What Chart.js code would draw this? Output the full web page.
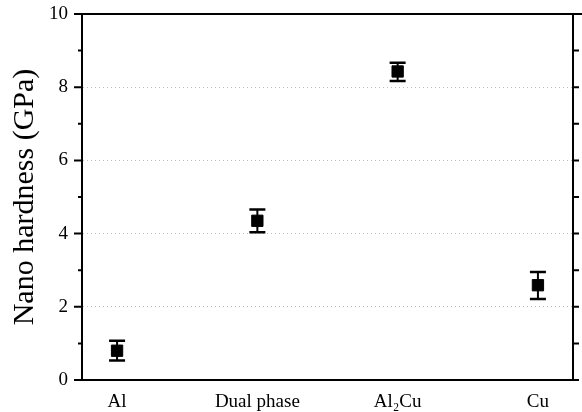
<!DOCTYPE html>
<html>
  <head>
    <title>Nano hardness</title>
    <script src="https://cdn.jsdelivr.net/npm/chart.js"></script>
    <style>
      html, body { margin: 0; padding: 0; background: #fff; overflow: hidden; }
    </style>
  </head>
  <body>
    <canvas id="myChart" width="582" height="412"></canvas>
    <script>
      var categories = ["Al", "Dual phase", "Al\u2082Cu", "Cu"];
      var hardness = [0.80, 4.35, 8.43, 2.59];
      var errLow = [0.53, 4.04, 8.17, 2.21];
      var errHigh = [1.07, 4.66, 8.67, 2.95];
      var yTicks = [0, 2, 4, 6, 8, 10];

      var serif = "'Liberation Serif', 'Times New Roman', serif";

      // error bars + tick marks + frame, all placed through the chart scales
      var extras = {
        id: "extras",
        afterDatasetsDraw: function (chart) {
          var c = chart.ctx;
          var xs = chart.scales.x, ys = chart.scales.y;
          var area = chart.chartArea;
          c.save();
          c.strokeStyle = "#000";
          for (var i = 0; i < hardness.length; i++) {
            var px = xs.getPixelForValue(i);
            var top = ys.getPixelForValue(errHigh[i]);
            var bot = ys.getPixelForValue(errLow[i]);
            c.lineWidth = 2;
            c.beginPath();
            c.moveTo(px, top); c.lineTo(px, bot);
            c.stroke();
            c.lineWidth = 2.5;
            c.beginPath();
            c.moveTo(px - 8, top); c.lineTo(px + 8, top);
            c.moveTo(px - 8, bot); c.lineTo(px + 8, bot);
            c.stroke();
          }
          // frame: top and right
          c.lineWidth = 2;
          c.beginPath();
          c.moveTo(area.left, area.top); c.lineTo(chart.width, area.top);
          c.moveTo(area.right, area.top); c.lineTo(area.right, area.bottom + 1);
          c.stroke();
          // ticks on left (outward) and right (outward)
          for (var v = 0; v <= 10; v++) {
            var py = ys.getPixelForValue(v);
            var major = v % 2 === 0;
            c.lineWidth = 2;
            c.beginPath();
            c.moveTo(area.left, py); c.lineTo(area.left - (major ? 8 : 4), py);
            c.moveTo(area.right, py); c.lineTo(area.right + 6, py);
            c.stroke();
          }
          c.restore();
        }
      };

      var ctx = document.getElementById("myChart").getContext("2d");
      var myChart = new Chart(ctx, {
        type: "scatter",
        data: {
          datasets: [{
            label: "Nano hardness",
            data: hardness.map(function (h, i) { return { x: i, y: h }; }),
            pointStyle: "rect",
            pointRadius: 8,
            pointBorderWidth: 1,
            backgroundColor: "#000",
            borderColor: "#000"
          }]
        },
        options: {
          responsive: false,
          animation: false,
          layout: { padding: { top: 14, right: 5, left: 0, bottom: 0 } },
          plugins: { legend: { display: false }, tooltip: { enabled: false } },
          scales: {
            x: {
              type: "linear",
              min: -0.25,
              max: 3.25,
              afterBuildTicks: function (scale) {
                scale.ticks = categories.map(function (c, i) { return { value: i }; });
              },
              afterFit: function (scale) {
                scale.height = 32;
                scale.paddingLeft = 0;
                scale.paddingRight = 0;
              },
              grid: { display: false },
              border: { display: true, color: "#000", width: 2 },
              ticks: {
                color: "#000",
                padding: 3,
                maxRotation: 0,
                autoSkip: false,
                font: { family: serif, size: 19 },
                callback: function (v) { return categories[v]; }
              }
            },
            y: {
              min: 0,
              max: 10,
              afterBuildTicks: function (scale) {
                scale.ticks = yTicks.map(function (t) { return { value: t }; });
              },
              afterFit: function (scale) {
                scale.width = 82;
                scale.paddingTop = 0;
                scale.paddingBottom = 0;
              },
              grid: {
                drawTicks: false,
                color: function (c) {
                  var v = c.tick && c.tick.value;
                  return (v > 0 && v < 10) ? "#bdbdbd" : "rgba(0,0,0,0)";
                },
                lineWidth: 1
              },
              border: { display: true, color: "#000", width: 2, dash: [1, 3] },
              ticks: {
                color: "#000",
                padding: 14,
                autoSkip: false,
                font: { family: serif, size: 19 }
              },
              title: {
                display: true,
                text: "Nano hardness (GPa)",
                color: "#000",
                padding: { top: 7, bottom: 0 },
                font: { family: serif, size: 30 }
              }
            }
          }
        },
        plugins: [extras]
      });
    </script>
  </body>
</html>
